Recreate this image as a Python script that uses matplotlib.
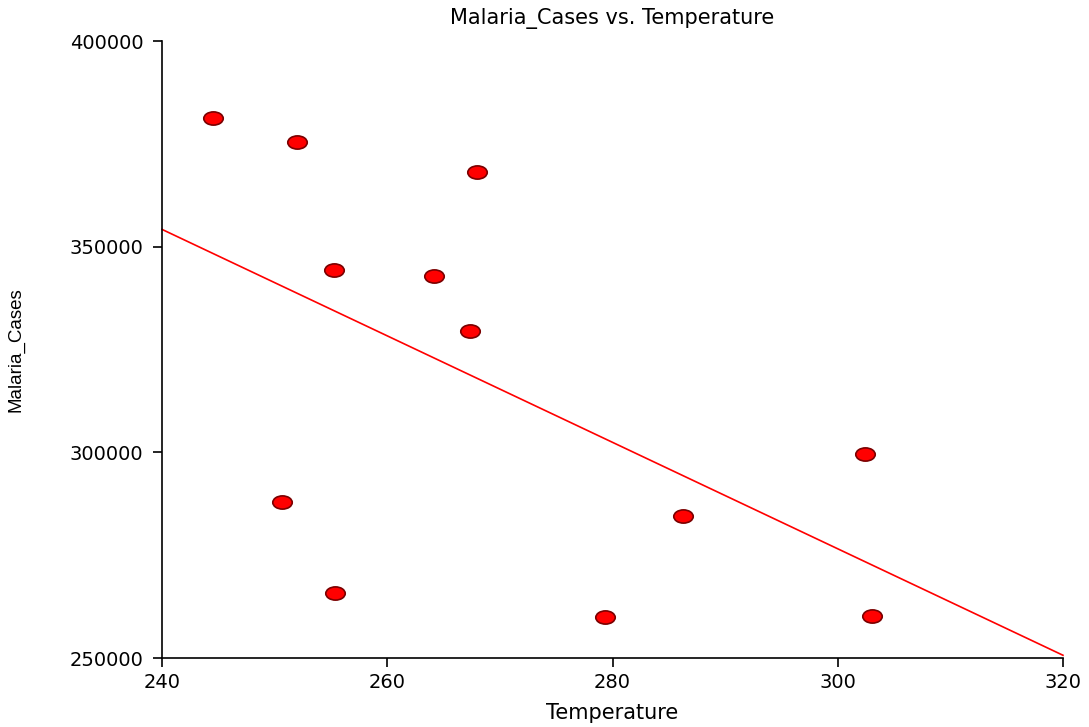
import numpy as np
import matplotlib
matplotlib.use("Agg")
import matplotlib.pyplot as plt
from matplotlib.path import Path
from matplotlib.transforms import Affine2D
from matplotlib import font_manager

temperature = [244.53, 251.99, 267.97, 255.27, 264.15, 267.35, 302.42, 250.65, 286.26, 255.36, 279.33, 303.04]
malaria_cases = [381281, 375446, 368153, 344327, 342869, 329498, 299595, 287925, 284522, 265803, 259968, 260211]
x_ticks = [240, 260, 280, 300, 320]
y_ticks = [250000, 300000, 350000, 400000]

names = {f.name for f in font_manager.fontManager.ttflist}
narrow_font = "Liberation Sans Narrow" if "Liberation Sans Narrow" in names else "Liberation Sans"
wide_font = "DejaVu Sans"
plt.rcParams['font.family'] = [wide_font]

fig = plt.figure(figsize=(10.89, 7.27), dpi=100)
ax = fig.add_axes([0.1488, 0.0949, 0.9761 - 0.1488, 0.9436 - 0.0949])

ellipse = Path.unit_circle().transformed(Affine2D().scale(1.0, 0.68))

x = np.array(temperature)
y = np.array(malaria_cases)
slope, intercept = np.polyfit(x, y, 1)
xl = np.array([x_ticks[0], x_ticks[-1]])
ax.plot(xl, slope * xl + intercept, color="#ff0000", lw=1.2, zorder=2, clip_on=False)

ax.plot(x, y, linestyle="none", marker=ellipse, markersize=14,
        markerfacecolor="#ff0000", markeredgecolor="#7a0000", markeredgewidth=1.2, zorder=3)

ax.set_xlim(x_ticks[0], x_ticks[-1])
ax.set_ylim(y_ticks[0], y_ticks[-1])
ax.set_xticks(x_ticks)
ax.set_yticks(y_ticks)
ax.set_xticklabels([str(v) for v in x_ticks], fontsize=14)
ax.set_yticklabels([str(v) for v in y_ticks], fontsize=14)

for s in ["top", "right"]:
    ax.spines[s].set_visible(False)
for s in ["left", "bottom"]:
    ax.spines[s].set_linewidth(1.2)
    ax.spines[s].set_color("black")
ax.tick_params(axis="y", direction="out", length=6.5, width=1.2, colors="black", pad=7)
ax.tick_params(axis="x", direction="out", length=6.5, width=1.2, colors="black", pad=4)

ax.set_title("Malaria_Cases vs. Temperature", fontsize=15, pad=12)
ax.set_xlabel("Temperature", fontsize=15, labelpad=8)
ax.set_ylabel("Malaria_Cases", fontsize=13.5, family=[narrow_font, 'DejaVu Sans'], labelpad=32)

fig.savefig("out.png", dpi=100)
